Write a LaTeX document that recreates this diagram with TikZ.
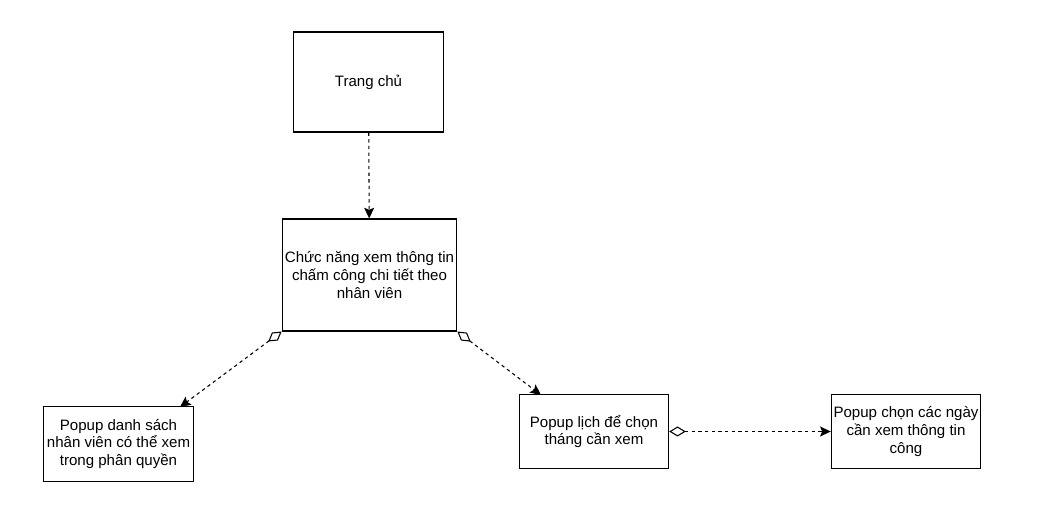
\documentclass[tikz,border=0pt]{standalone}
\usepackage{fontspec}
\setmainfont{Liberation Sans}
\usetikzlibrary{arrows.meta}

\tikzset{
	box/.style = {draw, thick, align=center, inner sep=1pt, font=\fontsize{11.3}{13.3}\selectfont},
	headtip/.tip = {Stealth[length=8pt, width=7.5pt, inset=1.5pt]},
	link/.style = {dash pattern=on 2.5pt off 2.5pt, thick, -{headtip}},
	aggr/.style = {dash pattern=on 2.5pt off 2.5pt, thick, {Diamond[open, length=12.5pt, width=7.5pt]}-{headtip}}
}

\begin{document}
\begin{tikzpicture}[x=0.75pt, y=-0.75pt]
			\useasboundingbox (0,0) rectangle (1054,530);

			\node [box, minimum width=113pt, minimum height=75pt] (home) at (368.5,82) {Trang chủ};
			\node [box, minimum width=131pt, minimum height=84pt] (func) at (369.5,275) {Chức năng xem thông tin\\chấm công chi tiết theo\\nhân viên};
			\node [box, minimum width=112pt, minimum height=56pt] (staff) at (118.5,444) {Popup danh sách\\nhân viên có thể xem\\trong phân quyền};
			\node [box, minimum width=112pt, minimum height=55pt] (month) at (594,431.5) {Popup lịch để chọn\\tháng cần xem};
			\node [box, minimum width=112pt, minimum height=56pt] (days) at (906,431.5) {Popup chọn các ngày\\cần xem thông tin\\công};

			\coordinate (staffin) at (180,407);
			\coordinate (monthin) at (541,395);

			\draw [link] (home) to (func);
			\draw [aggr] (func.south west) to (staffin);
			\draw [aggr] (func.south east) to (monthin);
			\draw [aggr] (month) to (days);
		\end{tikzpicture}
\end{document}
